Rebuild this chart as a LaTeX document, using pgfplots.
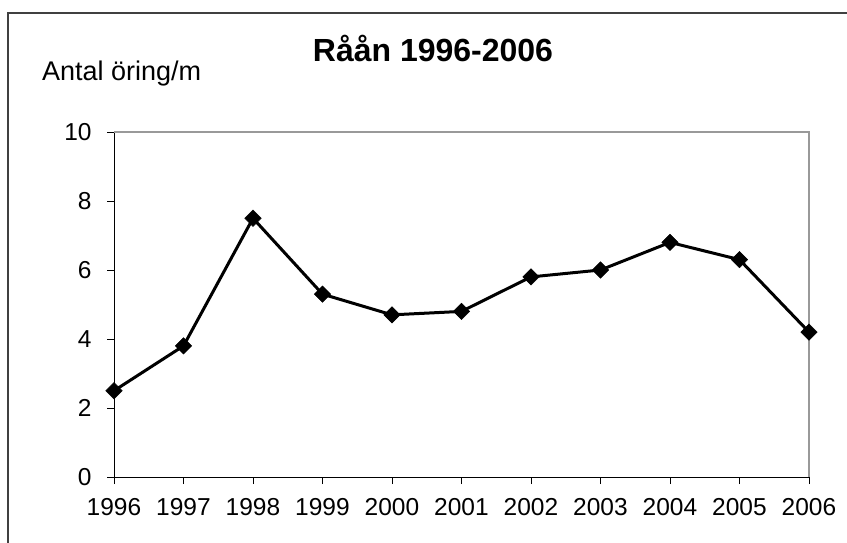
\documentclass[border=0pt]{standalone}
\usepackage{pgfplots}
\pgfplotsset{compat=1.18}
\usepackage{fontspec}
\setmainfont{Liberation Sans}
\begin{document}
\begin{tikzpicture}[x=1pt,y=1pt]
\clip (0,0) rectangle (847,542);
\useasboundingbox (0,0) rectangle (847,542);
\draw[line width=2pt, black!75] (8,-20) -- (8,529) -- (870,529);
\begin{axis}[
  at={(114pt,65pt)}, anchor=origin,
  scale only axis, width=695pt, height=345pt,
  xmin=1996, xmax=2006, ymin=0, ymax=10,
  axis x line*=bottom, axis y line*=left,
  axis line style={black, line width=1pt},
  xtick={1996,...,2006}, ytick={0,2,...,10},
  tick align=outside, major tick length=7pt,
  tick style={black, line width=0.8pt},
  tick label style={font=\fontsize{24.5}{28}\selectfont},
  xticklabel style={yshift=-11pt},
  yticklabel style={xshift=-12pt},
  clip=false,
  /pgf/number format/1000 sep={},
  /pgf/number format/assume math mode=true,
]
\draw[gray!80, line width=1.5pt] (rel axis cs:0,1) -- (rel axis cs:1,1) -- (rel axis cs:1,0);
\addplot[black, line width=3pt, mark=square*, mark size=5.8pt,
  mark options={rotate=45, solid, line width=0.5pt}] coordinates {
  (1996,2.5) (1997,3.8) (1998,7.5) (1999,5.3) (2000,4.7) (2001,4.8)
  (2002,5.8) (2003,6.0) (2004,6.8) (2005,6.3) (2006,4.2)
};
\end{axis}
\node[anchor=base, font=\fontsize{32}{36}\selectfont\bfseries] at (433,480) {Råån 1996-2006};
\node[anchor=base west, inner sep=0pt, font=\fontsize{27}{30}\selectfont] at (42,461) {Antal öring/m};
\end{tikzpicture}
\end{document}
